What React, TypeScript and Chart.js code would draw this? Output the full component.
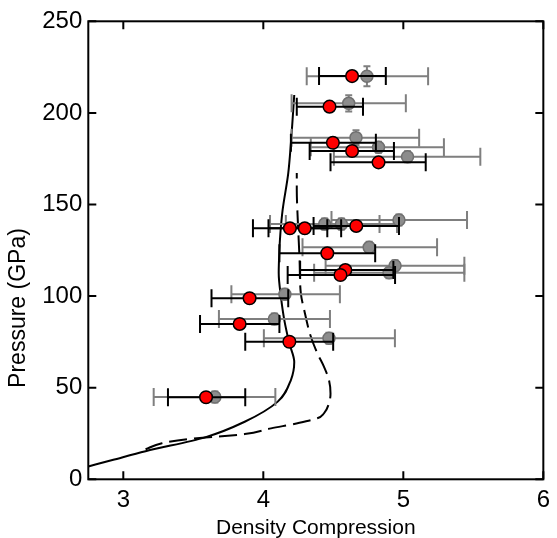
import React, { useEffect, useRef } from 'react';
import { Chart, registerables } from 'chart.js';

Chart.register(...registerables);

// ---- axis ticks ----
const xTicks = [3, 4, 5, 6];
const yTicks = [0, 50, 100, 150, 200, 250];

// ---- red points (black error bars) ----
const redX = [4.634, 4.473, 4.497, 4.634, 4.823, 4.19, 4.296, 4.664, 4.457, 4.586, 4.551, 3.902, 3.831, 4.186, 3.591];
const redY = [220.1, 203.4, 183.7, 179.2, 173.0, 137.0, 137.0, 138.3, 123.4, 114.2, 111.5, 98.8, 84.8, 75.1, 44.8];
const redXLow = [4.398, 4.239, 4.197, 4.331, 4.48, 3.926, 4.037, 4.359, 4.115, 4.263, 4.174, 3.63, 3.548, 3.871, 3.319];
const redXHigh = [4.875, 4.712, 4.804, 4.933, 5.16, 4.457, 4.556, 4.969, 4.799, 4.929, 4.941, 4.178, 4.115, 4.499, 3.871];

// ---- gray points (gray error bars) ----
const grayX = [4.74, 4.61, 4.662, 4.823, 5.03, 4.438, 4.558, 4.969, 4.756, 4.941, 4.898, 4.154, 4.079, 4.469, 3.654];
const grayY = [220.0, 205.2, 186.5, 181.2, 176.1, 139.3, 139.3, 141.5, 126.6, 116.6, 112.8, 101.0, 87.5, 77.0, 44.9];
const grayXLow = [4.31, 4.202, 4.202, 4.339, 4.504, 4.048, 4.161, 4.487, 4.28, 4.445, 4.363, 3.772, 3.683, 4.004, 3.217];
const grayXHigh = [5.177, 5.018, 5.113, 5.29, 5.55, 4.83, 4.955, 5.455, 5.241, 5.436, 5.436, 4.547, 4.476, 4.94, 4.086];
const grayYErr = [5.5, 4.5, 4, 3, 3, 3, 3, 3, 3, 3, 3, 3, 3, 3, 3];

// ---- solid curve ----
const solidX = [2.75, 2.922, 3.159, 3.584, 3.867, 4.103, 4.197, 4.221, 4.186, 4.15, 4.126, 4.11, 4.115, 4.122, 4.138, 4.178, 4.197, 4.221];
const solidY = [7.0, 10.5, 15.3, 22.9, 31.4, 42.4, 54.2, 64.0, 74.2, 86.9, 99.6, 112.6, 125.2, 134.3, 147.0, 167.0, 183.4, 209.8];

// ---- dashed curve ----
const dashX = [3.159, 3.276, 3.465, 3.678, 3.867, 4.055, 4.244, 4.386, 4.433, 4.469, 4.48, 4.469, 4.433, 4.386, 4.338, 4.292, 4.268, 4.259, 4.244, 4.239, 4.239];
const dashY = [16.4, 19.7, 22.0, 23.3, 24.7, 27.8, 30.6, 33.3, 36.0, 41.5, 46.9, 54.2, 61.5, 68.8, 78.2, 92.4, 101.5, 119.8, 145.4, 157.9, 167.2];

const xTitle = 'Density Compression';
const yTitle = 'Pressure (GPa)';
const FONT = "'Liberation Sans', Arial, Helvetica, sans-serif";

const errorBarPlugin = {
  id: 'errorBars',
  beforeDatasetDraw(chart: any, args: any) {
    const ds = chart.data.datasets[args.index];
    let lo: number[], hi: number[], ys: number[], yErr: number[] | null, color: string;
    if (ds.label === 'gray') {
      lo = grayXLow; hi = grayXHigh; ys = grayY; yErr = grayYErr; color = '#7f7f7f';
    } else if (ds.label === 'red') {
      lo = redXLow; hi = redXHigh; ys = redY; yErr = null; color = '#000000';
    } else return;
    const { ctx, scales } = chart;
    const x = scales.x, y = scales.y;
    const xs = ds.label === 'gray' ? grayX : redX;
    ctx.save();
    ctx.strokeStyle = color;
    ctx.lineWidth = 2;
    ctx.lineCap = 'butt';
    for (let i = 0; i < ys.length; i++) {
      const py = y.getPixelForValue(ys[i]);
      const xl = x.getPixelForValue(lo[i]);
      const xh = x.getPixelForValue(hi[i]);
      ctx.beginPath();
      ctx.moveTo(xl, py); ctx.lineTo(xh, py);
      ctx.moveTo(xl, py - 9); ctx.lineTo(xl, py + 9);
      ctx.moveTo(xh, py - 9); ctx.lineTo(xh, py + 9);
      if (yErr) {
        const px = x.getPixelForValue(xs[i]);
        const yt = y.getPixelForValue(ys[i] + yErr[i]);
        const yb = y.getPixelForValue(ys[i] - yErr[i]);
        ctx.moveTo(px, yt); ctx.lineTo(px, yb);
        ctx.moveTo(px - 3.5, yt); ctx.lineTo(px + 3.5, yt);
        ctx.moveTo(px - 3.5, yb); ctx.lineTo(px + 3.5, yb);
      }
      ctx.stroke();
    }
    ctx.restore();
  },
};

const framePlugin = {
  id: 'frame',
  afterDraw(chart: any) {
    const { ctx, chartArea, scales } = chart;
    const { left, right, top, bottom } = chartArea;
    const x = scales.x, y = scales.y;
    ctx.save();
    ctx.strokeStyle = '#000';
    ctx.lineWidth = 2;
    ctx.strokeRect(left, top, right - left, bottom - top);
    ctx.beginPath();
    x.ticks.forEach((t: any) => {
      const px = x.getPixelForValue(t.value);
      ctx.moveTo(px, bottom); ctx.lineTo(px, bottom - 8);
      ctx.moveTo(px, top); ctx.lineTo(px, top + 8);
    });
    y.ticks.forEach((t: any) => {
      const py = y.getPixelForValue(t.value);
      ctx.moveTo(left, py); ctx.lineTo(left + 8, py);
      ctx.moveTo(right, py); ctx.lineTo(right - 8, py);
    });
    ctx.stroke();
    // y-axis title
    ctx.translate(19, 308);
    ctx.rotate(-Math.PI / 2);
    ctx.fillStyle = '#000';
    ctx.font = `23px ${FONT}`;
    ctx.textAlign = 'center';
    ctx.textBaseline = 'middle';
    ctx.fillText(yTitle, 0, 0);
    ctx.restore();
  },
};

export default function App() {
  const ref = useRef<HTMLCanvasElement | null>(null);
  useEffect(() => {
    if (!ref.current) return;
    const chart = new Chart(ref.current, {
      type: 'scatter',
      data: {
        datasets: [
          {
            label: 'red',
            data: redX.map((v, i) => ({ x: v, y: redY[i] })),
            backgroundColor: '#ff0000',
            borderColor: '#000000',
            borderWidth: 1.5,
            pointRadius: 6.3,
            order: 1,
          },
          {
            label: 'gray',
            data: grayX.map((v, i) => ({ x: v, y: grayY[i] })),
            backgroundColor: '#8c8c8c',
            borderColor: '#707070',
            borderWidth: 1.5,
            pointRadius: 6,
            order: 2,
          },
          {
            label: 'dashed',
            data: dashX.map((v, i) => ({ x: v, y: dashY[i] })),
            indexAxis: 'y',
            showLine: true,
            borderColor: '#000',
            borderWidth: 2,
            borderDash: [18, 7],
            pointRadius: 0,
            cubicInterpolationMode: 'monotone',
            order: 3,
          },
          {
            label: 'solid',
            data: solidX.map((v, i) => ({ x: v, y: solidY[i] })),
            indexAxis: 'y',
            showLine: true,
            borderColor: '#000',
            borderWidth: 2,
            pointRadius: 0,
            cubicInterpolationMode: 'monotone',
            order: 4,
          },
        ] as any,
      },
      options: {
        responsive: false,
        animation: false,
        layout: { padding: { top: 21.3, right: 9.3, left: 0, bottom: 0 } },
        plugins: {
          legend: { display: false },
          tooltip: { enabled: false },
        },
        scales: {
          x: {
            type: 'linear',
            min: 2.75,
            max: 6,
            afterBuildTicks: (s: any) => { s.ticks = xTicks.map((v) => ({ value: v })); },
            afterFit: (s: any) => { s.height = 58.7; },
            grid: { display: false, drawTicks: false },
            border: { display: false },
            ticks: { color: '#000', font: { family: FONT, size: 24 }, padding: 7, maxRotation: 0, callback: (v: any) => String(v) },
            title: { display: true, text: xTitle, color: '#000', font: { family: FONT, size: 21, lineHeight: 0.9 }, padding: { top: 0, bottom: 0 } },
          },
          y: {
            type: 'linear',
            min: 0,
            max: 250,
            afterBuildTicks: (s: any) => { s.ticks = yTicks.map((v) => ({ value: v })); },
            afterFit: (s: any) => { s.width = 88.3; },
            grid: { display: false, drawTicks: false },
            border: { display: false },
            ticks: { color: '#000', font: { family: FONT, size: 24 }, padding: 6, callback: (v: any) => String(v) },
          },
        },
      },
      plugins: [errorBarPlugin, framePlugin],
    });
    return () => chart.destroy();
  }, []);
  return (
    <div style={{ position: 'fixed', left: 0, top: 0, width: 557, height: 538, background: '#fff' }}>
      <canvas ref={ref} width={557} height={538} />
    </div>
  );
}
